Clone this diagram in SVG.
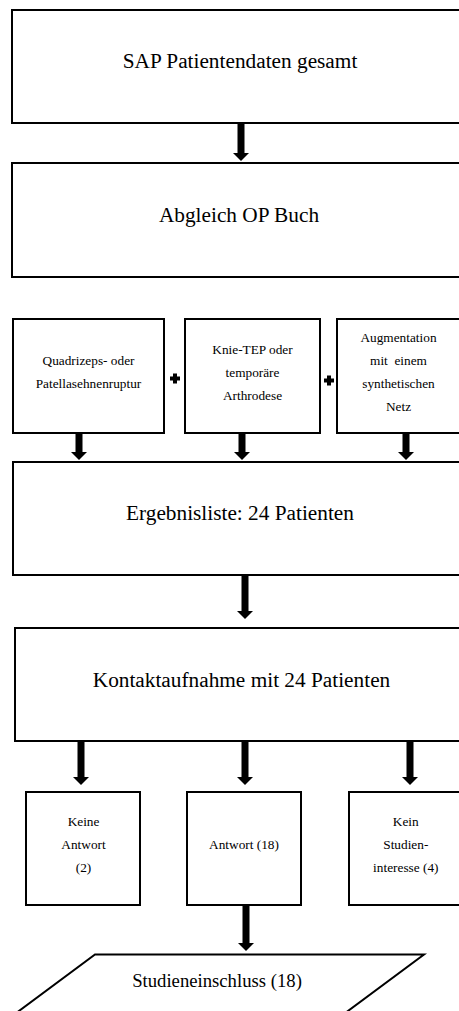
<svg xmlns="http://www.w3.org/2000/svg" width="459" height="1011" viewBox="0 0 459 1011">
<style>
.box{fill:#fff;stroke:#000;stroke-width:2}
text{font-family:'Liberation Serif',serif;fill:#000;text-anchor:middle}
.big{font-size:21.3px}
.mid{font-size:18.7px}
.sm{font-size:13.3px}
.arr{fill:#000;stroke:none}
</style>
<rect width="459" height="1011" fill="#fff"/>
<g id="n1"><rect class="box" x="12" y="10" width="470" height="113"/><text class="big" x="240" y="68">SAP Patientendaten gesamt</text></g>
<g id="n2"><rect class="box" x="12" y="163" width="470" height="114"/><text class="big" x="239" y="222">Abgleich OP Buch</text></g>
<g id="n3"><rect class="box" x="13" y="319" width="151" height="114"/><text class="sm" x="88.5" y="365">Quadrizeps- oder</text><text class="sm" x="88.5" y="388">Patellasehnenruptur</text></g>
<g id="n4"><rect class="box" x="185" y="319" width="135" height="114"/><text class="sm" x="252.5" y="354">Knie-TEP oder</text><text class="sm" x="252.5" y="377">temporäre</text><text class="sm" x="252.5" y="400">Arthrodese</text></g>
<g id="n5"><rect class="box" x="337" y="319" width="140" height="114"/><text class="sm" x="398.5" y="342">Augmentation</text><text class="sm" x="398.5" y="365" xml:space="preserve">mit  einem</text><text class="sm" x="398.5" y="388">synthetischen</text><text class="sm" x="398.5" y="411">Netz</text></g>
<g id="plus1"><path class="arr" d="M173,373.5h4v3h3v4h-3v3h-4v-3h-3v-4h3z"/></g>
<g id="plus2"><path class="arr" d="M327,375.5h4v3h3v4h-3v3h-4v-3h-3v-4h3z"/></g>
<g id="n6"><rect class="box" x="13" y="462" width="470" height="113"/><text class="big" x="240" y="520">Ergebnisliste: 24 Patienten</text></g>
<g id="n7"><rect class="box" x="15" y="628" width="470" height="113"/><text class="big" x="241.5" y="687">Kontaktaufnahme mit 24 Patienten</text></g>
<g id="n8"><rect class="box" x="26" y="792" width="114" height="113"/><text class="sm" x="83.5" y="826">Keine</text><text class="sm" x="83.5" y="849">Antwort</text><text class="sm" x="83.5" y="872">(2)</text></g>
<g id="n9"><rect class="box" x="187" y="792" width="114" height="113"/><text class="sm" x="244" y="849">Antwort (18)</text></g>
<g id="n10"><rect class="box" x="349" y="792" width="130" height="113"/><text class="sm" x="405.8" y="826">Kein</text><text class="sm" x="405.8" y="849">Studien-</text><text class="sm" x="405.8" y="872">interesse (4)</text></g>
<g id="n11"><polygon class="box" points="95,954.5 424,954.5 321,1031 -8,1031"/><text class="mid" x="217" y="987">Studieneinschluss (18)</text></g>
<g id="connectors">
<polygon class="arr" points="237.5,124 244.5,124 244.5,153 249,153 241,161 233,153 237.5,153"/>
<polygon class="arr" points="75.5,434 82.5,434 82.5,452 87,452 79,460 71,452 75.5,452"/>
<polygon class="arr" points="238.5,434 245.5,434 245.5,452 250,452 242,460 234,452 238.5,452"/>
<polygon class="arr" points="402.5,434 409.5,434 409.5,452 414,452 406,460 398,452 402.5,452"/>
<polygon class="arr" points="241.5,576 248.5,576 248.5,611 253,611 245,619 237,611 241.5,611"/>
<polygon class="arr" points="77.5,742 84.5,742 84.5,777 89,777 81,785 73,777 77.5,777"/>
<polygon class="arr" points="241.5,742 248.5,742 248.5,777 253,777 245,785 237,777 241.5,777"/>
<polygon class="arr" points="406.5,742 413.5,742 413.5,777 418,777 410,785 402,777 406.5,777"/>
<polygon class="arr" points="242.5,906 249.5,906 249.5,943 254,943 246,951 238,943 242.5,943"/>
</g>
</svg>
